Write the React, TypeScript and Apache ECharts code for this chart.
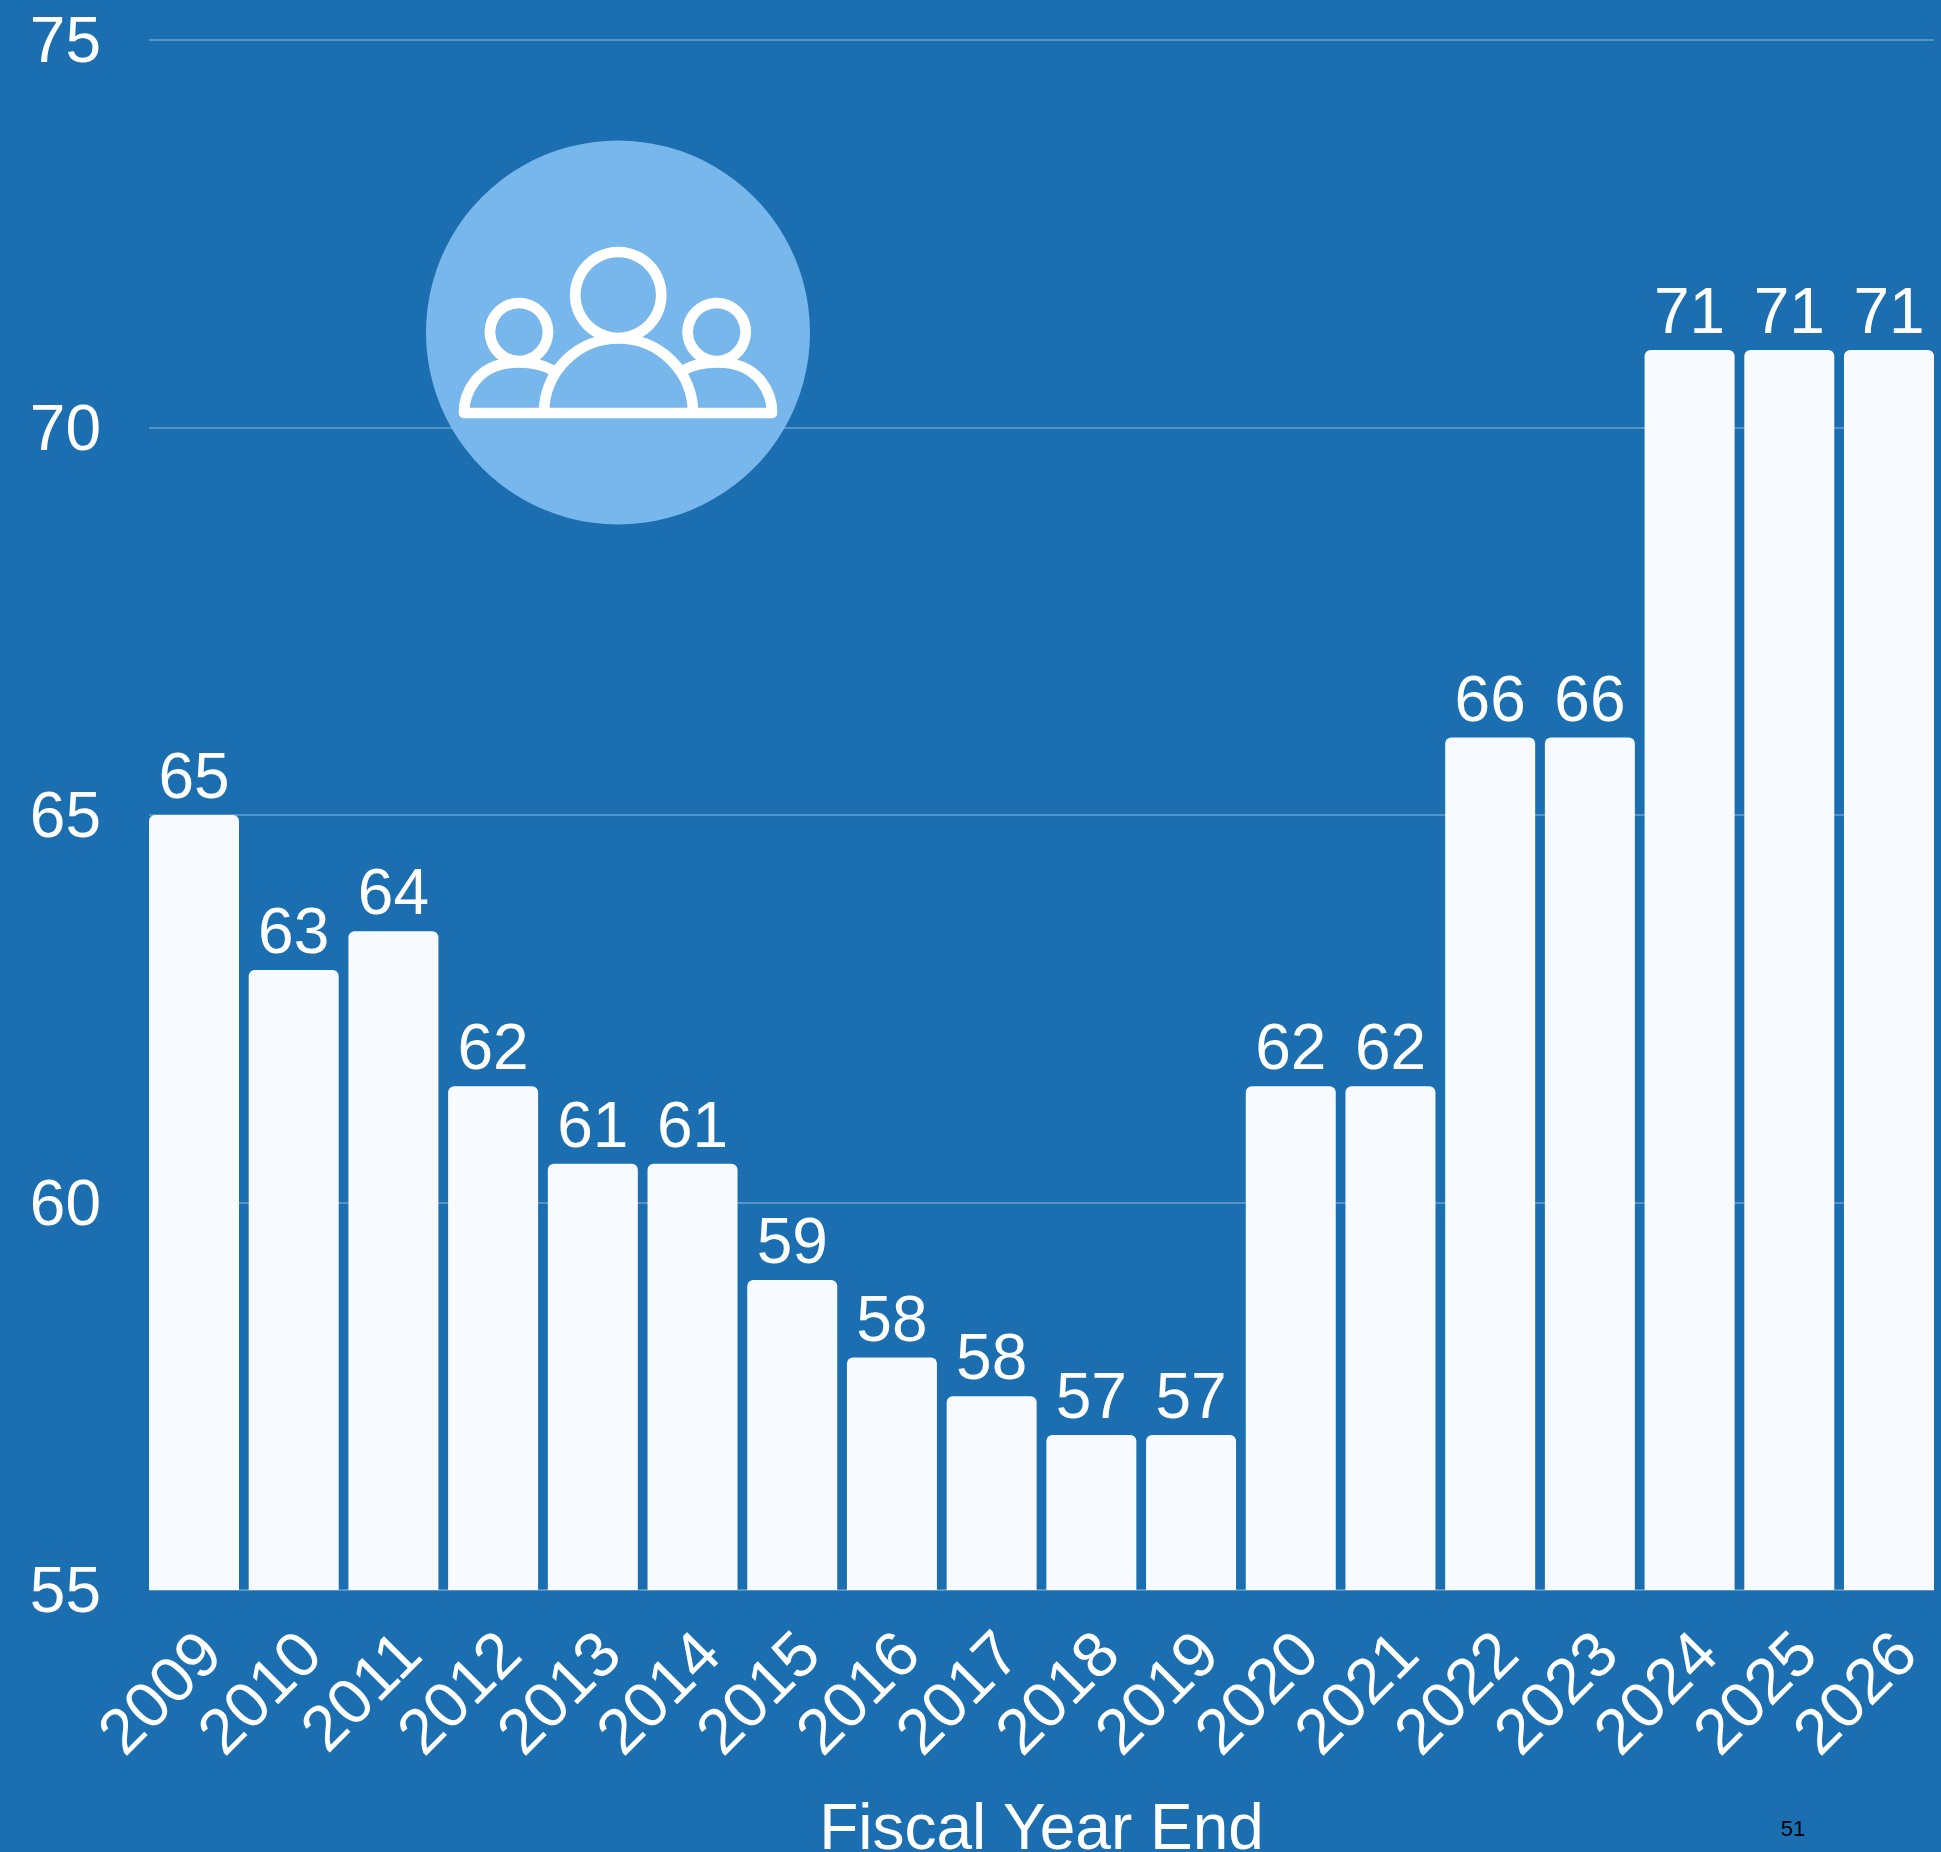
import React, { useEffect, useRef } from "react";
import * as echarts from "echarts";

const years = ["2009","2010","2011","2012","2013","2014","2015","2016","2017","2018","2019","2020","2021","2022","2023","2024","2025","2026"];
const values = [65,63,63.5,61.5,60.5,60.5,59,58,57.5,57,57,61.5,61.5,66,66,71,71,71];
const axisTitle = "Fiscal Year End";
const pageNumber = "51";

const FONT = "Liberation Sans";
const BG = "#1b6fb1";
const ICON = [
  "M 464 413 L 772 413",
  "M 544 413 A 74.5 74.5 0 0 1 693 413",
  "M 618.3 252 A 43 43 0 1 1 618.2 252 Z",
  "M 519 303 A 29 29 0 1 1 518.9 303 Z",
  "M 716.7 303 A 29 29 0 1 1 716.6 303 Z",
  "M 464 413 C 464 397 474 362 519 362.5 C 534 362.5 546 366 554 371",
  "M 772 413 C 772 397 762 362 717 362.5 C 702 362.5 690 366 682 371",
].join(" ");
echarts.graphic.registerShape("peopleIcon", echarts.graphic.extendPath(ICON, {}));

export default function App() {
  const ref = useRef<HTMLDivElement>(null);
  useEffect(() => {
    document.body.style.margin = "0";
    const chart = echarts.init(ref.current!, undefined, { renderer: "svg" });
    chart.setOption({
      animation: false,
      backgroundColor: BG,
      textStyle: { fontFamily: FONT },
      grid: [
        { left: 149, top: 40, width: 1785, height: 1550, outerBoundsMode: "none" },
        { left: 144.15, top: 40, width: 1794.7, height: 1550, outerBoundsMode: "none" },
      ],
      xAxis: [
        { type: "category", gridIndex: 0, data: years, show: false },
        {
          type: "category",
          gridIndex: 1,
          data: years,
          axisLine: { show: false },
          axisTick: { show: false },
          axisLabel: {
            color: "#fff",
            fontSize: 64,
            rotate: 45,
            margin: 36,
            interval: 0,
            fontFamily: FONT,
            verticalAlign: "top",
            lineHeight: 45,
          },
          name: axisTitle,
          nameLocation: "middle",
          nameGap: 205,
          nameTextStyle: { color: "#fff", fontSize: 64, fontFamily: FONT },
        },
      ],
      yAxis: [
        {
          type: "value",
          gridIndex: 0,
          min: 55,
          max: 75,
          interval: 5,
          axisLine: { show: false },
          axisTick: { show: false },
          axisLabel: { color: "#fff", fontSize: 64, margin: 48, fontFamily: FONT },
          splitLine: { lineStyle: { color: "rgba(255,255,255,0.25)", width: 2 } },
        },
        { type: "value", gridIndex: 1, min: 55, max: 75, interval: 5, show: false, splitLine: { show: false } },
      ],
      series: [
        {
          type: "bar",
          xAxisIndex: 1,
          yAxisIndex: 1,
          data: values,
          barWidth: 90,
          itemStyle: { color: "#f7fbff", borderRadius: [6, 6, 0, 0] },
          label: {
            show: true,
            position: "top",
            distance: 7,
            color: "#fff",
            fontSize: 64,
            fontFamily: FONT,
            formatter: (p: { value: number }) => String(Math.round(p.value)),
          },
        },
      ],
      graphic: [
        { type: "circle", shape: { cx: 618, cy: 332.5, r: 192 }, style: { fill: "#78b7ec" }, z: 10 },
        {
          type: "peopleIcon",
          x: 0,
          y: 0,
          style: { fill: "none", stroke: "#fff", lineWidth: 10.7, lineJoin: "round", lineCap: "round" },
          z: 11,
        },
        {
          type: "text",
          x: 1793,
          y: 1828,
          style: { text: pageNumber, fill: "#000", font: `22px "${FONT}"`, textAlign: "center", textVerticalAlign: "middle" },
          z: 11,
        },
      ],
    });
    return () => chart.dispose();
  }, []);
  return <div ref={ref} style={{ width: 1941, height: 1852 }} />;
}
